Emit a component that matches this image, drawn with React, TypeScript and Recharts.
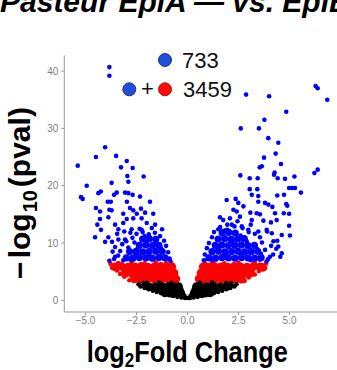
import { ScatterChart, Scatter, XAxis, YAxis } from "recharts";

// volcano plot: log2 fold change vs -log10(pval)
const xTicks = [-5, -2.5, 0, 2.5, 5];
const yTicks = [0, 10, 20, 30, 40];
const legendUp = "733";
const legendAll = "3459";

// significant + |log2FC| large (blue), scattered points
const blueSparse: [number, number][] = [
  [-3.83, 40.7], [-3.83, 39.2], [6.28, 37.4], [6.38, 37.0], [6.85, 35.0], [2.87, 35.9], [4.0, 35.6],
  [4.84, 32.9], [3.77, 31.5], [2.61, 30.0], [3.5, 30.0], [3.96, 28.3], [4.45, 27.5], [4.32, 25.6],
  [3.75, 24.9], [4.58, 23.8], [3.64, 23.4], [3.54, 23.2], [4.27, 22.3], [4.24, 21.9], [6.22, 22.2],
  [6.38, 22.8], [2.59, 21.8], [3.05, 21.3], [3.44, 21.3], [5.24, 21.6], [4.42, 21.3], [4.78, 21.2],
  [3.05, 19.4], [3.42, 19.4], [5.14, 19.6], [4.98, 19.6], [5.27, 19.6], [5.56, 18.8], [4.4, 18.3],
  [4.73, 18.4], [3.15, 18.4], [3.47, 18.2], [1.92, 17.5], [2.36, 17.7], [2.49, 17.0], [2.74, 16.4],
  [3.47, 17.2], [3.8, 17.0], [3.96, 16.7], [4.84, 16.8], [4.89, 16.5], [4.16, 16.3], [2.25, 15.8],
  [2.41, 15.5], [3.08, 15.3], [3.39, 15.2], [3.55, 15.0], [4.72, 15.2], [4.98, 15.1], [4.29, 15.2],
  [1.59, 14.5], [2.08, 14.3], [2.57, 14.6], [3.15, 14.0], [3.72, 13.9], [4.09, 13.6], [4.37, 14.0],
  [2.17, 13.2], [2.66, 12.9], [4.98, 13.0], [1.51, 12.4], [1.84, 12.2], [2.98, 12.3], [3.47, 12.0],
  [3.88, 12.3], [4.13, 11.7], [4.62, 11.4], [5.02, 11.3], [4.21, 10.3], [4.45, 9.4], [4.62, 8.2],
  [4.04, 7.6], [3.55, 7.1], [3.88, 6.8],
  [-4.04, 26.7], [-4.49, 25.0], [-3.5, 25.2], [-5.38, 23.5], [-2.98, 24.3], [-3.26, 23.2],
  [-2.69, 23.1], [-2.95, 21.7], [-2.15, 21.6], [-4.94, 20.0], [-3.72, 20.5], [-2.9, 20.7],
  [-5.22, 18.0], [-5.14, 17.7], [-4.37, 18.7], [-4.25, 19.0], [-3.6, 18.4], [-3.47, 18.8],
  [-3.06, 18.8], [-2.9, 18.7], [-2.69, 18.4], [-2.33, 18.1], [-3.91, 17.2], [-3.76, 17.2],
  [-2.97, 17.2], [-1.84, 17.2], [-4.49, 16.1], [-4.29, 15.5], [-3.83, 15.8], [-3.72, 15.7],
  [-2.82, 16.1], [-2.66, 15.7], [-2.28, 16.0], [-3.15, 15.1], [-2.49, 15.1], [-2.08, 15.3],
  [-1.68, 15.1], [-4.29, 14.2], [-3.88, 14.5], [-2.98, 14.2], [-2.66, 14.3], [-2.25, 14.3],
  [-4.42, 13.2], [-3.55, 13.2], [-3.15, 13.5], [-2.0, 13.5], [-1.59, 13.2], [-4.24, 12.3],
  [-3.39, 12.4], [-2.74, 12.4], [-2.25, 12.3], [-4.53, 11.0], [-3.88, 11.0], [-4.04, 10.2],
  [-3.39, 10.6], [-3.06, 10.6], [-3.83, 6.9], [-3.67, 8.5], [-3.55, 7.6],
  [-3.6, 7.2], [-3.4, 7.8], [-3.3, 8.6], [-3.55, 9.3], [-3.2, 9.8], [-2.9, 9.2], [-3.0, 10.3],
  [-2.7, 10.9], [-2.5, 11.6], [-2.2, 11.9], [-1.9, 11.5], [-1.6, 11.8], [-1.35, 11.2], [-1.15, 10.4],
  [-1.05, 9.5], [-0.95, 8.4], [-0.88, 7.3], [-2.8, 11.8], [-2.35, 12.5], [-1.75, 12.6], [-3.1, 12.0],
  [-3.45, 11.6], [-3.7, 10.2], [-2.0, 10.2], [-2.55, 8.0], [-3.15, 7.0], [-0.85, 6.9], [-1.25, 12.4],
  [-2.6, 10.1], [-1.3, 9.1], [-2.45, 9.0], [-1.9, 8.0], [-2.75, 7.0], [-1.55, 10.2], [-2.1, 11.2],
  [3.95, 7.2], [4.2, 8.0], [3.8, 8.8], [4.1, 9.5], [3.65, 10.1], [3.55, 11.0], [3.3, 11.6], [2.7, 12.6],
  [2.3, 12.9], [1.95, 13.2], [1.6, 12.8], [1.3, 11.9], [1.2, 11.0], [1.05, 10.0], [0.95, 9.1],
  [0.85, 8.0], [0.8, 7.0], [3.0, 11.9], [4.4, 10.4], [3.9, 12.0], [4.35, 9.0], [4.55, 7.6],
  [3.1, 13.2], [1.75, 14.0], [2.45, 13.8],
  [1.5, 9.1], [2.2, 10.2], [2.9, 10.3], [3.4, 9.0], [2.6, 8.0], [1.85, 7.9], [3.1, 7.0], [1.25, 7.0],
  [2.6, 11.3], [1.95, 12.3], [3.6, 8.1],
];

// dense part of the blue cloud
const blueCore: [number, number][] = [
  [-3.0, 7.4], [-2.68, 7.35], [-2.36, 7.45], [-2.04, 7.4], [-1.72, 7.35], [-1.4, 7.45], [-1.1, 7.4],
  [-2.84, 8.5], [-2.52, 8.55], [-2.2, 8.45], [-1.88, 8.5], [-1.56, 8.55], [-1.24, 8.5],
  [-2.36, 9.6], [-2.04, 9.65], [-1.72, 9.55], [-1.4, 9.6],
  [-2.2, 10.7], [-1.88, 10.75], [-1.56, 10.65],
  [1.05, 7.4], [1.37, 7.35], [1.69, 7.45], [2.01, 7.4], [2.33, 7.35], [2.65, 7.45], [2.97, 7.4],
  [3.29, 7.35], [3.61, 7.45],
  [1.2, 8.5], [1.52, 8.55], [1.84, 8.45], [2.16, 8.5], [2.48, 8.55], [2.8, 8.45], [3.12, 8.5], [3.44, 8.55],
  [1.36, 9.6], [1.68, 9.65], [2.0, 9.55], [2.32, 9.6], [2.64, 9.65], [2.96, 9.55], [3.28, 9.6],
  [1.5, 10.7], [1.82, 10.75], [2.14, 10.65], [2.46, 10.7], [2.78, 10.75],
  [1.7, 11.8], [2.02, 11.85], [2.34, 11.75],
];

const redCore: [number, number][] = [
  [-3.55, 5.85], [-3.23, 5.9], [-2.91, 5.8], [-2.59, 5.85], [-2.27, 5.9], [-1.95, 5.8], [-1.63, 5.85],
  [-1.31, 5.9], [-0.99, 5.8], [-0.77, 5.85],
  [-3.05, 4.75], [-2.73, 4.7], [-2.41, 4.8], [-2.09, 4.75], [-1.77, 4.7], [-1.45, 4.8], [-1.13, 4.75],
  [-0.85, 4.7], [-0.66, 4.75],
  [-2.6, 3.75], [-2.28, 3.7], [-1.96, 3.8], [-1.64, 3.75], [-1.32, 3.7], [-1.0, 3.8], [-0.74, 3.75],
  [-0.57, 3.75],
  [0.77, 5.85], [1.0, 5.8], [1.32, 5.9], [1.64, 5.85], [1.96, 5.8], [2.28, 5.9], [2.6, 5.85],
  [2.92, 5.8], [3.24, 5.9], [3.56, 5.85], [3.68, 5.75],
  [0.66, 4.75], [0.88, 4.7], [1.2, 4.8], [1.52, 4.75], [1.84, 4.7], [2.16, 4.8], [2.48, 4.75],
  [2.8, 4.7], [3.1, 4.8],
  [0.57, 3.75], [0.76, 3.7], [1.07, 3.8], [1.39, 3.75], [1.71, 3.7], [2.03, 3.8], [2.35, 3.75],
  [2.64, 3.7],
];

const redEdge: [number, number][] = [
  [-3.78, 6.4], [-3.7, 5.7], [-3.45, 5.2], [-3.3, 4.6], [-3.1, 4.1], [-2.85, 3.5], [-3.4, 6.5],
  [-2.75, 6.55], [-2.1, 6.45], [-1.55, 6.6], [-1.05, 6.5], [-0.8, 6.5],
  [3.85, 6.4], [3.8, 5.6], [3.5, 5.1], [3.3, 4.5], [3.0, 4.0], [2.8, 3.4], [3.3, 6.5], [2.5, 6.55],
  [1.8, 6.45], [1.2, 6.6], [0.85, 6.5],
];

const blackCore: [number, number][] = [
  [-1.9, 2.4], [-1.58, 2.35], [-1.26, 2.45], [-0.94, 2.4], [-0.64, 2.35], [-0.44, 2.4],
  [0.44, 2.4], [0.64, 2.35], [0.94, 2.4], [1.26, 2.45], [1.58, 2.35], [1.9, 2.4],
  [-1.1, 1.3], [-0.78, 1.25], [-0.5, 1.3], [-0.34, 1.35],
  [0.34, 1.35], [0.5, 1.3], [0.78, 1.25], [1.1, 1.3],
];

const blackEdge: [number, number][] = [
  [-2.4, 2.8], [-2.2, 2.55], [-2.15, 3.0], [-2.05, 2.2], [2.4, 2.8], [2.2, 2.55], [2.15, 3.0], [2.05, 2.2],
  [-2.3, 2.42], [-2.1, 2.17], [-1.9, 1.92], [-1.7, 1.69], [-1.5, 1.47], [-1.3, 1.26], [-1.1, 1.07],
  [-0.9, 0.9], [-0.7, 0.74], [-0.5, 0.6], [-0.3, 0.5], [-0.12, 0.42], [0, 0.4],
  [0.12, 0.42], [0.3, 0.5], [0.5, 0.6], [0.7, 0.74], [0.9, 0.9], [1.1, 1.07], [1.3, 1.26],
  [1.5, 1.47], [1.7, 1.69], [1.9, 1.92], [2.1, 2.17], [2.3, 2.42],
  [-1.42, 1.75], [-0.95, 1.8], [-0.62, 1.8], [-0.3, 1.9], [0.3, 1.9], [0.62, 1.8], [0.95, 1.8],
  [1.42, 1.75], [-0.15, 0.8], [0.15, 0.8], [-0.22, 1.15], [0.22, 1.15],
  [-2.0, 3.05], [-1.4, 3.1], [-0.8, 3.0], [0.6, 3.05], [1.2, 3.1], [1.9, 3.0],
];

const toPts = (arr: [number, number][]) => arr.map(([x, y]) => ({ x, y }));

const dot = (r: number, fill: string) => (p: any) => <circle cx={p.cx} cy={p.cy} r={r} fill={fill} />;

const font = "'Liberation Sans', Arial, sans-serif";

export default function App() {
  return (
    <div style={{ position: "absolute", left: 0, top: 0, width: 337, height: 370, overflow: "hidden", background: "#fff" }}>
      <ScatterChart width={345} height={370} margin={{ top: 55.4, right: 5.3, bottom: 0, left: 0 }}>
        <XAxis
          type="number"
          dataKey="x"
          domain={[-6.04, 7.46]}
          ticks={xTicks}
          allowDataOverflow
          height={58}
          stroke="#999"
          tickSize={3}
          tickMargin={2}
          tick={{ fill: "#7f7f7f", fontSize: 10, fontFamily: font }}
          tickFormatter={(v: number) => v.toFixed(1).replace("-", "\u2212")}
        />
        <YAxis
          type="number"
          dataKey="y"
          domain={[-2.04, 42.74]}
          ticks={yTicks}
          allowDataOverflow
          width={64.3}
          stroke="#999"
          tickSize={3}
          tickMargin={3}
          tick={{ fill: "#7f7f7f", fontSize: 10, fontFamily: font }}
        />
        <Scatter data={toPts(redCore)} shape={dot(4.4, "#ff0000")} isAnimationActive={false} />
        <Scatter data={toPts(redEdge)} shape={dot(2.3, "#ff0000")} isAnimationActive={false} />
        <Scatter data={toPts(blackCore)} shape={dot(4.4, "#000000")} isAnimationActive={false} />
        <Scatter data={toPts(blackEdge)} shape={dot(2.3, "#000000")} isAnimationActive={false} />
        <Scatter data={toPts(blueCore)} shape={dot(3.6, "#0000ff")} isAnimationActive={false} />
        <Scatter data={toPts(blueSparse)} shape={dot(2.3, "#0000ff")} isAnimationActive={false} />
      </ScatterChart>
      <svg width={337} height={370} style={{ position: "absolute", left: 0, top: 0, pointerEvents: "none" }}>
        <text x={0} y={12} fontSize={30} fontWeight="bold" fontStyle="italic" fontFamily={font} fill="#000">
          Pasteur EpiA — vs. EpiB
        </text>
        <circle cx={165} cy={60} r={6.5} fill="#1f4fe0" stroke="#23336e" strokeWidth={1} />
        <text x={182} y={68.3} fontSize={22} fontFamily={font} fill="#111">{legendUp}</text>
        <circle cx={129.3} cy={89.3} r={6.5} fill="#1f4fe0" stroke="#23336e" strokeWidth={1} />
        <text x={147.5} y={96} fontSize={22} fontFamily={font} fill="#111" textAnchor="middle">+</text>
        <circle cx={165} cy={89.3} r={6.5} fill="#ff0a0a" stroke="#c01010" strokeWidth={1} />
        <text x={183} y={97.3} fontSize={22} fontFamily={font} fill="#111">{legendAll}</text>
        <text transform="translate(30,193) rotate(-90)" textAnchor="middle" fontSize={30} fontWeight="bold" fontFamily={font} fill="#000">
          <tspan>−</tspan>
          <tspan dx={3}>log</tspan>
          <tspan dy={7} dx={1} fontSize={20}>10</tspan>
          <tspan dy={-7} dx={3}>(pval)</tspan>
        </text>
        <text x={187.3} y={361.5} textAnchor="middle" fontSize={29} fontWeight="bold" fontFamily={font} fill="#000" textLength={201} lengthAdjust="spacingAndGlyphs">
          <tspan>log</tspan>
          <tspan dy={5.5} fontSize={19.5}>2</tspan>
          <tspan dy={-5.5}>Fold Change</tspan>
        </text>
      </svg>
    </div>
  );
}
